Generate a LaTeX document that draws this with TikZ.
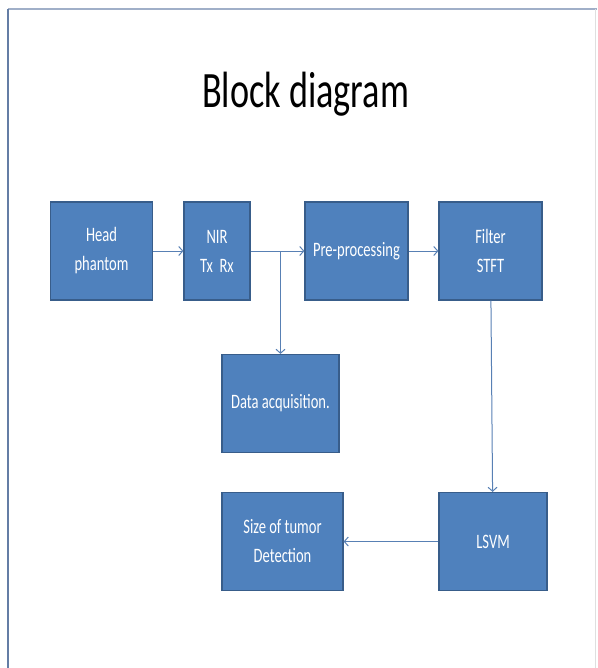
\documentclass[tikz,border=0pt]{standalone}
\usepackage{fontspec}
\setmainfont{Carlito}[FakeStretch=0.71]
\usepackage{tikz}
\usetikzlibrary{arrows, arrows.meta, positioning}
\usepackage{xcolor}
\definecolor{blockblue}{RGB}{79, 129, 189}
\definecolor{blockedge}{RGB}{56, 93, 138}
\definecolor{linkblue}{RGB}{88, 128, 180}
\definecolor{framegray}{RGB}{100, 125, 165}
\definecolor{framelight}{RGB}{160, 175, 200}
\tikzstyle{block} = [rectangle, minimum height=98pt, text centered, align=center, draw=blockedge, line width=1.2pt, fill=blockblue, text=white, font=\fontsize{20.5}{29}\selectfont, inner sep=0pt]
\tikzstyle{arrow} = [line width=1pt,-{Straight Barb[length=4pt,width=9pt]},linkblue]

\begin{document}
\begin{tikzpicture}[x=1pt, y=-1pt]
\useasboundingbox (0,0) rectangle (597,668);
% slide frame
\draw[framelight, line width=1.2pt] (8,9) -- (597,9);
\draw[framegray, line width=1.6pt] (8,9) -- (8,668);
\draw[gray!25, line width=0.6pt] (595,9) -- (595,668);

\node[anchor=base, font=\fontsize{51}{60}\selectfont] (title) at (305.5,108) {Block diagram};

% top row
\node[block, minimum width=102pt] (head) at (101.5,251) {Head\\phantom};
\node[block, minimum width=66pt] (nir) at (217,251) {NIR\\Tx\ \ Rx};
\node[block, minimum width=103pt] (pre) at (356.5,251) {Pre-processing};
\node[block, minimum width=103pt] (filt) at (490.5,251) {Filter\\STFT};

% lower blocks
\node[block, minimum width=117pt] (data) at (280.5,403.5) {Data acquisition.};
\node[block, minimum width=121pt] (size) at (282.5,541.5) {Size of tumor\\Detection};
\node[block, minimum width=108pt] (lsvm) at (493,541.5) {LSVM};

\coordinate (split) at (280.5,251);

\draw[arrow] (head) -- (nir);
\draw[arrow] (nir) -- (pre);
\draw[arrow] (split) -- (data.north);
\draw[arrow] (pre) -- (filt);
\draw[arrow] (filt) -- (lsvm);
\draw[arrow] (lsvm) -- (size);
\end{tikzpicture}
\end{document}
